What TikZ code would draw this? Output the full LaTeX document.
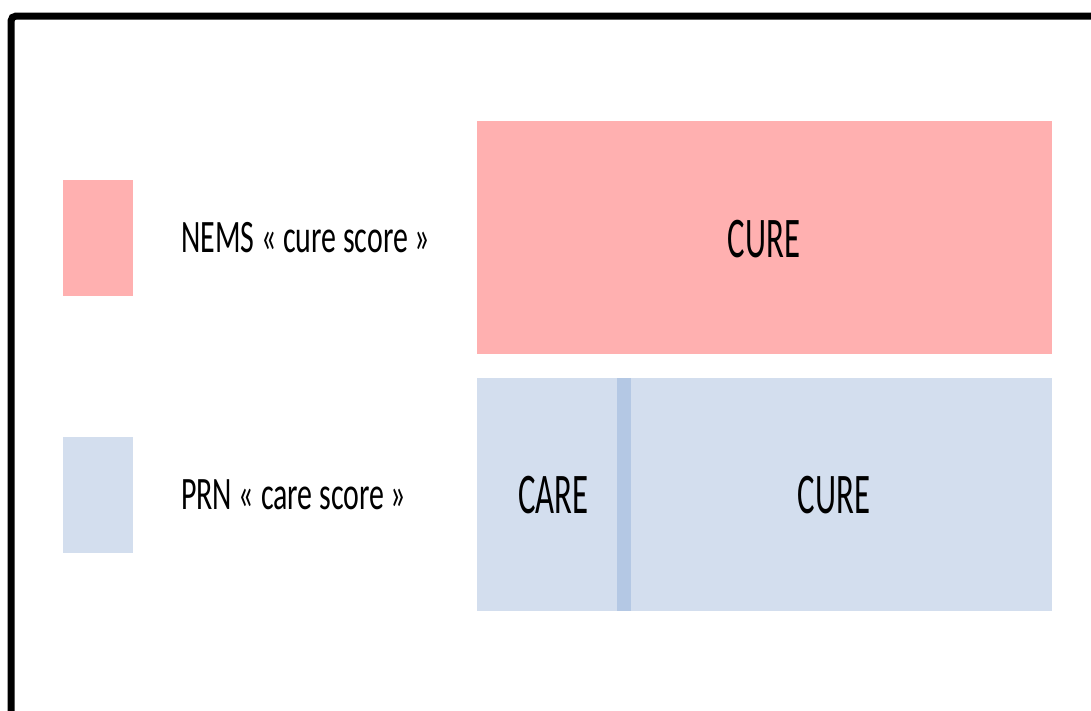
\documentclass[tikz,border=0pt]{standalone}
\usepackage{fontspec}
\setmainfont{Carlito}
\definecolor{curered}{RGB}{255,176,176}
\definecolor{careblue}{RGB}{211,222,238}
\definecolor{bandblue}{RGB}{180,200,228}
\newcommand{\legtxt}[1]{\scalebox{0.643}[1]{\fontsize{46.5}{52}\selectfont #1}}
\newcommand{\bigtxt}[1]{\scalebox{0.57}[1]{\fontsize{57.5}{64}\selectfont #1}}
\begin{document}
\begin{tikzpicture}[x=1pt,y=-1pt,
  box/.style={inner sep=0pt, outer sep=0pt, anchor=north west},
  legtext/.style={anchor=west, inner sep=0pt},
  biglabel/.style={inner sep=0pt}]
\useasboundingbox (0,0) rectangle (1091,710);
\clip (0,0) rectangle (1091,710);
\draw[line width=7pt, rounded corners=5pt] (11,730) -- (11,16) -- (1110,16);
% legend
\node[box, fill=curered, minimum width=70pt, minimum height=116pt] (legred) at (63,180) {};
\node[box, fill=careblue, minimum width=70pt, minimum height=116pt] (legblue) at (63,437) {};
\node[legtext] (nems) at (181,238) {\legtxt{NEMS « cure score »}};
\node[legtext] (prn) at (181,495) {\legtxt{PRN « care score »}};
% bars
\node[box, fill=curered, minimum width=575pt, minimum height=233pt] (redbar) at (477,121) {};
\node[biglabel] (cure1) at (764,239.5) {\bigtxt{CURE}};
\node[box, fill=careblue, minimum width=575pt, minimum height=233pt] (bluebar) at (477,378) {};
\node[box, fill=bandblue, minimum width=14pt, minimum height=233pt] (band) at (617,378) {};
\node[biglabel] (care) at (553.5,495) {\bigtxt{CARE}};
\node[biglabel] (cure2) at (834,495) {\bigtxt{CURE}};
\end{tikzpicture}
\end{document}
